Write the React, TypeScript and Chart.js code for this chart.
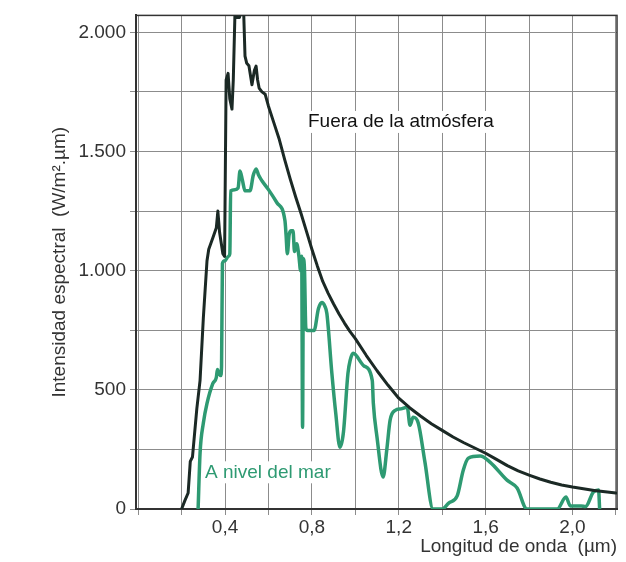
import React, { useEffect, useRef } from 'react';
import { Chart, registerables } from 'chart.js';

Chart.register(...registerables);

// Wavelength (µm) and spectral intensity (W/m².µm)
const outsideX = [0.2, 0.215, 0.23, 0.24, 0.25, 0.27, 0.285, 0.3, 0.317, 0.325, 0.344, 0.36, 0.367, 0.375, 0.39, 0.398, 0.405, 0.414, 0.422, 0.432, 0.438, 0.446, 0.455, 0.466, 0.476, 0.486, 0.492, 0.5, 0.51, 0.524, 0.535, 0.543, 0.55, 0.557, 0.57, 0.585, 0.6, 0.625, 0.65, 0.675, 0.7, 0.725, 0.75, 0.775, 0.8, 0.825, 0.85, 0.875, 0.9, 0.925, 0.95, 0.975, 1.0, 1.05, 1.1, 1.15, 1.2, 1.25, 1.3, 1.35, 1.4, 1.45, 1.5, 1.55, 1.6, 1.65, 1.7, 1.75, 1.8, 1.85, 1.9, 1.95, 2.0, 2.05, 2.1, 2.15, 2.2];
const outsideY = [0, 35, 67, 200, 218, 420, 540, 800, 1042, 1090, 1138, 1180, 1250, 1160, 1071, 1060, 1800, 1828, 1720, 1678, 1800, 2090, 2062, 2062, 2090, 2080, 1900, 1870, 1860, 1780, 1840, 1858, 1800, 1766, 1750, 1740, 1690, 1620, 1550, 1465, 1385, 1310, 1240, 1165, 1090, 1020, 955, 905, 860, 818, 780, 745, 715, 645, 580, 520, 465, 425, 390, 358, 330, 302, 278, 256, 234, 208, 182, 160, 142, 126, 112, 101, 92, 85, 78, 72, 67];

const seaX = [0.276, 0.285, 0.3, 0.317, 0.344, 0.36, 0.365, 0.372, 0.38, 0.384, 0.388, 0.4, 0.415, 0.422, 0.426, 0.445, 0.46, 0.469, 0.48, 0.492, 0.515, 0.53, 0.543, 0.555, 0.57, 0.6, 0.639, 0.676, 0.681, 0.687, 0.695, 0.705, 0.713, 0.72, 0.73, 0.74, 0.748, 0.753, 0.757, 0.761, 0.766, 0.772, 0.78, 0.81, 0.83, 0.846, 0.86, 0.869, 0.892, 0.91, 0.929, 0.945, 0.966, 0.976, 0.99, 1.04, 1.078, 1.083, 1.1, 1.128, 1.145, 1.16, 1.184, 1.21, 1.239, 1.252, 1.266, 1.29, 1.32, 1.358, 1.4, 1.43, 1.469, 1.497, 1.52, 1.575, 1.62, 1.7, 1.745, 1.79, 1.93, 1.97, 1.99, 2.04, 2.06, 2.096, 2.12, 2.125];
const seaY = [0, 234, 360, 443, 527, 552, 585, 570, 560, 600, 1030, 1042, 1060, 1071, 1335, 1340, 1347, 1418, 1380, 1335, 1335, 1400, 1427, 1400, 1377, 1340, 1285, 1209, 1150, 1071, 1150, 1167, 1167, 1080, 1113, 1063, 1000, 1060, 343, 1050, 1000, 760, 749, 749, 840, 866, 850, 820, 569, 400, 259, 320, 569, 623, 653, 600, 540, 443, 300, 134, 250, 372, 414, 420, 427, 351, 385, 360, 200, 0, 0, 25, 55, 163, 213, 222, 197, 120, 88, 0, 0, 50, 13, 13, 10, 71, 80, 0];

const seriesNames = ['Fuera de la atmósfera', 'A nivel del mar'];
// label anchors (data coordinates: left edge x, vertical centre y)
const labelAnchorX = [0.782, 0.308];
const labelAnchorY = [1624, 154];

const xTitle = 'Longitud de onda  (µm)';
const yTitle = 'Intensidad espectral  (W/m².µm)';

const X_MIN = -0.01;
const X_MAX = 2.205;
const Y_MIN = 0;
const Y_MAX = 2071;
const X_STEP = 0.2;
const Y_STEP = 250;

const FONT = '"Liberation Sans", Arial, Helvetica, sans-serif';
const BLACK = '#1b2925';
const GREEN = '#2e9a72';
const TEXT = '#333333';
const GRID = '#8c8c8c';

function fmtY(v: number): string {
  if (v % 500 !== 0) return '';
  if (v >= 1000) {
    const t = Math.floor(v / 1000);
    return `${t}.${String(v % 1000).padStart(3, '0')}`;
  }
  return String(v);
}

function fmtX(v: number): string {
  const k = Math.round(v * 10);
  if (k <= 0 || k % 4 !== 0) return '';
  return (k / 10).toFixed(1).replace('.', ',');
}

function toPoints(xs: number[], ys: number[]) {
  return xs.map((x, i) => ({ x, y: ys[i] }));
}

export default function App() {
  const ref = useRef<HTMLCanvasElement>(null);

  useEffect(() => {
    document.body.style.margin = '0';
    const canvas = ref.current;
    if (!canvas) return;

    const labelsPlugin = {
      id: 'labelsAndFrame',
      beforeDatasetsDraw(chart: any) {
        const { ctx, chartArea: a, scales } = chart;
        ctx.save();
        ctx.strokeStyle = '#333';
        ctx.lineWidth = 1.5;
        ctx.strokeRect(a.left, a.top, a.right - a.left, a.bottom - a.top);
        ctx.font = `19px ${FONT}`;
        ctx.textBaseline = 'middle';
        ctx.textAlign = 'left';
        seriesNames.forEach((name, i) => {
          const x = scales.x.getPixelForValue(labelAnchorX[i]);
          const y = scales.y.getPixelForValue(labelAnchorY[i]);
          const w = ctx.measureText(name).width;
          ctx.fillStyle = '#ffffff';
          ctx.fillRect(x - 3, y - 11, w + 6, 22);
          ctx.fillStyle = i === 0 ? '#111111' : GREEN;
          ctx.fillText(name, x, y);
        });
        ctx.restore();
      },
    };

    const chart = new Chart(canvas, {
      type: 'line',
      data: {
        datasets: [
          {
            label: seriesNames[0],
            data: toPoints(outsideX, outsideY),
            borderColor: BLACK,
            borderWidth: 3,
            pointRadius: 0,
            tension: 0,
            borderJoinStyle: 'round',
            borderCapStyle: 'round',
          },
          {
            label: seriesNames[1],
            data: toPoints(seaX, seaY),
            borderColor: GREEN,
            borderWidth: 3.5,
            pointRadius: 0,
            cubicInterpolationMode: 'monotone',
            borderJoinStyle: 'round',
            borderCapStyle: 'round',
          },
        ],
      },
      options: {
        animation: false,
        responsive: false,
        events: [],
        layout: { padding: { top: 13, right: 9, left: 0, bottom: 0 } },
        plugins: {
          legend: { display: false },
          tooltip: { enabled: false },
        },
        scales: {
          x: {
            type: 'linear',
            min: X_MIN,
            max: X_MAX,
            afterFit: (s: any) => {
              s.height = 53;
            },
            ticks: {
              stepSize: X_STEP,
              includeBounds: false,
              autoSkip: false,
              maxRotation: 0,
              padding: 1,
              color: TEXT,
              font: { family: FONT, size: 19 },
              callback: (v: any) => fmtX(Number(v)),
            },
            grid: { color: GRID, lineWidth: 1, tickLength: 6 },
            border: { color: '#333', width: 2 },
            title: {
              display: true,
              text: xTitle,
              align: 'end',
              color: TEXT,
              font: { family: FONT, size: 19 },
              padding: { top: 0, bottom: 4 },
            },
          },
          y: {
            type: 'linear',
            min: Y_MIN,
            max: Y_MAX,
            afterFit: (s: any) => {
              s.width = 136;
            },
            ticks: {
              stepSize: Y_STEP,
              includeBounds: false,
              autoSkip: false,
              padding: 4,
              color: TEXT,
              font: { family: FONT, size: 19 },
              callback: (v: any) => fmtY(Number(v)),
            },
            grid: { color: GRID, lineWidth: 1, tickLength: 6 },
            border: { color: '#333', width: 2 },
            title: {
              display: true,
              text: yTitle,
              color: TEXT,
              font: { family: FONT, size: 19 },
              padding: { top: 48, bottom: 0 },
            },
          },
        },
      },
      plugins: [labelsPlugin],
    } as any);

    return () => {
      chart.destroy();
    };
  }, []);

  return (
    <div style={{ width: 626, height: 562, background: '#fff' }}>
      <canvas ref={ref} width={626} height={562} style={{ display: 'block' }} />
    </div>
  );
}
